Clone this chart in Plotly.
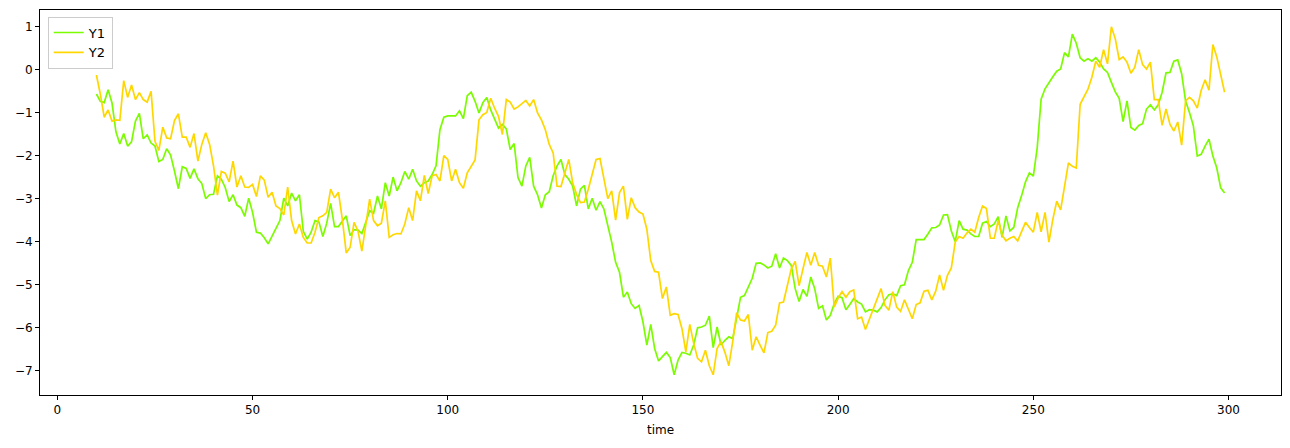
import plotly.graph_objects as go

t_start = 10
y1 = [-0.57, -0.74, -0.77, -0.47, -0.78, -1.45, -1.73, -1.49, -1.78, -1.68, -1.20, -1.02, -1.61, -1.52, -1.71, -1.78, -2.14, -2.09, -1.84, -1.99, -2.36, -2.77, -2.26, -2.30, -2.53, -2.31, -2.54, -2.65, -3.00, -2.91, -2.90, -2.47, -2.55, -2.74, -3.07, -2.91, -3.15, -3.21, -3.41, -2.99, -3.32, -3.78, -3.80, -3.91, -4.05, -3.86, -3.69, -3.51, -2.99,
      -3.17, -2.87, -3.05, -2.91, -3.76, -3.94, -3.78, -3.51, -3.54, -3.88, -3.57, -3.11, -3.65, -3.65, -3.51, -3.40, -3.86, -3.72, -3.73, -3.81, -3.55, -3.28, -3.34, -2.94, -3.24, -2.63, -2.94, -2.50, -2.82, -2.63, -2.37, -2.55, -2.32, -2.59, -2.71, -2.63, -2.59, -2.44, -2.24, -1.40, -1.11, -1.08, -1.08, -1.08, -0.96, -1.14, -0.61, -0.53, -0.74,
      -1.01, -0.77, -0.65, -0.94, -1.17, -1.36, -1.28, -1.38, -1.86, -1.72, -2.51, -2.71, -2.24, -2.04, -2.71, -2.91, -3.22, -2.91, -2.84, -2.47, -2.24,
      -2.09, -2.44, -2.55, -2.71, -3.17, -2.78, -2.69, -3.24, -2.99, -3.27, -3.07, -3.24, -3.63, -4.01, -4.48, -4.71, -5.29, -5.17, -5.44, -5.55, -5.48, -5.86, -6.40, -5.92, -6.48, -6.77, -6.67, -6.57, -6.69, -7.09, -6.75, -6.57, -6.59, -6.63, -6.40, -6.00, -5.98, -5.94, -5.73, -6.46, -5.98, -6.40, -6.29, -6.21, -6.25, -5.78,
      -5.29, -5.25, -5.05, -4.85, -4.50, -4.49, -4.54, -4.61, -4.57, -4.28, -4.61, -4.38, -4.44, -4.55, -5.09, -5.39, -5.11, -5.27, -4.82, -5.09, -5.55, -5.49, -5.82, -5.71, -5.44, -5.27, -5.30, -5.58, -5.46, -5.32, -5.40, -5.45, -5.63, -5.58, -5.59, -5.63, -5.53, -5.35, -5.23, -5.21, -5.25, -5.02, -5.00, -4.67, -4.48, -3.95,
      -3.95, -3.95, -3.82, -3.68, -3.67, -3.61, -3.38, -3.37, -3.75, -4.00, -3.51, -3.71, -3.73, -3.82, -3.88, -3.88, -3.57, -3.53, -3.65, -3.59, -3.42, -3.90, -3.40, -3.75, -3.67, -3.21,
      -2.93, -2.61, -2.40, -2.48, -1.82, -0.69, -0.45, -0.30, -0.17, -0.04, 0.01, 0.39, 0.29, 0.82, 0.61, 0.27, 0.19, 0.25, 0.19, 0.27, 0.17, 0.01, -0.07, -0.30, -0.52, -0.67, -1.21, -0.73, -1.35, -1.41, -1.30, -1.26, -0.92, -0.82, -0.94, -0.82, -0.53, -0.08, -0.07, 0.19, 0.22, -0.10, -0.73, -1.00, -1.31, -2.01, -1.97, -1.78, -1.62, -2.01, -2.29, -2.75, -2.87]

y2 = [-0.13, -0.57, -1.11, -0.94, -1.20, -1.17, -1.18, -0.26, -0.65, -0.36, -0.70, -0.54, -0.70, -0.76, -0.51, -1.67, -1.88, -1.34, -1.59, -1.61, -1.19, -1.03, -1.57, -1.57, -1.81, -1.49, -2.13, -1.74, -1.47, -1.74, -2.24, -2.92, -2.37, -2.41, -2.61, -2.13, -2.73, -2.47, -2.73, -2.74, -2.67, -2.95, -2.47, -2.57, -2.97, -2.85, -3.17, -3.23, -3.38,
      -2.73, -3.51, -3.82, -3.59, -3.90, -4.03, -4.03, -3.78, -3.44, -3.40, -3.32, -2.78, -2.98, -2.85, -3.48, -4.26, -4.13, -3.55, -3.75, -4.22, -3.63, -3.01, -3.51, -3.63, -3.57, -3.05, -3.90, -3.84, -3.81, -3.82, -3.59, -3.21, -3.51, -2.82, -3.05, -2.46, -2.88, -2.47, -2.44, -2.59, -2.00, -2.09, -2.59, -2.32, -2.63, -2.76, -2.40, -2.24, -2.10,
      -1.17, -1.05, -1.00, -0.67, -0.90, -1.09, -1.51, -0.70, -0.76, -0.92, -0.87, -0.80, -0.72, -0.85, -0.70, -1.01, -1.17, -1.40, -1.74, -1.94, -2.71,
      -2.72, -2.40, -2.09, -2.63, -2.90, -3.09, -3.08, -2.78, -2.41, -2.09, -2.07, -2.55, -3.00, -2.82, -3.50, -2.86, -2.71, -3.48, -2.98, -3.21, -3.31, -3.36, -3.71, -4.44, -4.69, -4.71, -5.32, -5.05, -5.71, -5.67, -5.69, -6.02, -6.56, -5.92, -6.36, -6.71, -6.79, -6.52, -6.88, -7.09, -6.48, -6.32, -6.57, -6.88, -6.32, -5.65,
      -5.82, -5.84, -5.69, -6.52, -6.21, -6.40, -6.58, -6.11, -6.08, -5.94, -5.42, -5.40, -5.02, -4.63, -4.46, -5.02, -4.63, -4.25, -4.55, -4.25, -4.55, -4.57, -4.82, -4.38, -5.52, -5.31, -5.16, -5.29, -5.16, -5.12, -5.79, -5.75, -6.04, -5.80, -5.58, -5.32, -5.09, -5.48, -5.59, -5.16, -5.52, -5.62, -5.35, -5.57, -5.79, -5.46,
      -5.42, -5.15, -5.13, -5.35, -5.15, -4.77, -5.13, -4.78, -4.61, -4.01, -3.88, -3.92, -3.80, -3.71, -3.78, -3.44, -3.17, -3.23, -3.92, -3.92, -3.51, -3.85, -3.98, -3.92, -3.88, -3.98,
      -3.75, -3.55, -3.67, -3.78, -3.32, -3.77, -3.32, -4.01, -3.48, -3.06, -3.26, -2.75, -2.17, -2.25, -2.29, -0.81, -0.65, -0.46, -0.18, 0.19, 0.05, 0.46, 0.13, 0.99, 0.71, 0.23, 0.29, 0.17, -0.09, 0.05, 0.46, 0.11, 0.01, 0.17, -0.70, -0.70, -1.30, -0.92, -1.27, -1.43, -1.22, -1.76, -0.73, -0.65, -0.73, -0.90, -0.49, -0.24, -0.48, 0.58, 0.29, -0.14, -0.53]

time = list(range(t_start, t_start + len(y1)))
x_ticks = [0, 50, 100, 150, 200, 250, 300]
y_ticks = [-7, -6, -5, -4, -3, -2, -1, 0, 1]

fig = go.Figure()
fig.add_trace(go.Scatter(x=time, y=y1, mode="lines", name="Y1",
                         line=dict(color="#7CFC00", width=1.7)))
fig.add_trace(go.Scatter(x=time, y=y2, mode="lines", name="Y2",
                         line=dict(color="#FFD700", width=1.7)))

axis_common = dict(showline=True, mirror=True, linecolor="black", linewidth=1,
                   ticks="outside", ticklen=4, tickcolor="black", showgrid=False,
                   zeroline=False, automargin=False,
                   tickfont=dict(size=12, color="black"))
# the page body has an 8px default margin, so the figure is sized to fit inside it
fig.update_layout(
    width=1282, height=440,
    margin=dict(l=32, r=9, t=2, b=53),
    paper_bgcolor="white", plot_bgcolor="white",
    font=dict(family="DejaVu Sans", size=12, color="black"),
    xaxis=dict(range=[-4.45, 313.45], tickvals=x_ticks,
               title=dict(text="time", font=dict(size=12), standoff=9), **axis_common),
    yaxis=dict(range=[-7.56, 1.38], tickvals=y_ticks, **axis_common),
    legend=dict(x=0.0062, y=0.983, xanchor="left", yanchor="top",
                bgcolor="white", bordercolor="#cccccc", borderwidth=1,
                font=dict(size=13), tracegroupgap=0, itemwidth=30,
                entrywidth=36),
    showlegend=True,
)
fig.write_html("out.html")
